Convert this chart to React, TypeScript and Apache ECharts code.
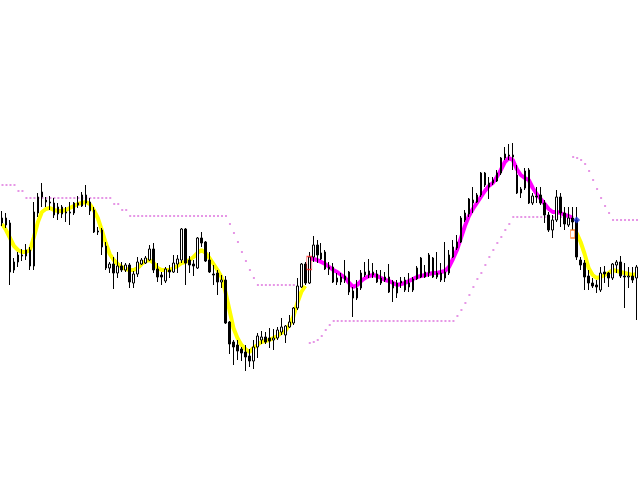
import React, { useEffect, useRef } from "react";
import * as echarts from "echarts";

// Each candle: [open, close, low, high] (price in points)
const candles: number[][] = [
  [257, 262, 254, 269], [262, 255, 252, 267], [257, 208, 195, 260], [210, 218, 207, 222],
  [218, 225, 213, 228], [224, 225, 219, 231], [224, 230, 220, 236], [230, 214, 210, 233],
  [214, 268, 210, 278], [267, 283, 263, 287], [283, 288, 273, 297], [280, 278, 273, 283],
  [278, 277, 270, 284], [277, 265, 262, 282], [266, 273, 260, 277], [273, 266, 262, 275],
  [268, 267, 258, 273], [268, 267, 255, 278], [267, 277, 265, 278], [275, 277, 272, 284],
  [274, 285, 273, 288], [285, 277, 273, 295], [278, 269, 265, 282], [270, 248, 247, 273],
  [249, 248, 245, 253], [250, 233, 225, 252], [234, 212, 210, 238], [212, 216, 207, 218],
  [216, 207, 191, 223], [207, 214, 202, 228], [214, 210, 208, 218], [210, 215, 208, 217],
  [215, 198, 192, 217], [197, 206, 192, 209], [206, 218, 203, 223], [216, 220, 215, 222],
  [217, 222, 216, 224], [220, 231, 219, 235], [231, 210, 207, 237], [211, 203, 198, 217],
  [205, 203, 195, 208], [199, 211, 197, 213], [210, 208, 202, 215], [208, 217, 207, 225],
  [216, 221, 207, 225], [220, 251, 217, 252], [251, 217, 195, 252], [220, 215, 207, 224],
  [216, 214, 204, 220], [212, 242, 211, 243], [242, 237, 233, 248], [238, 219, 218, 239],
  [220, 208, 207, 228], [206, 205, 195, 215], [207, 198, 185, 210], [198, 200, 192, 205],
  [200, 157, 156, 204], [158, 136, 126, 159], [138, 133, 115, 140], [135, 129, 120, 140],
  [131, 127, 119, 133], [128, 123, 109, 135], [124, 119, 113, 131], [119, 133, 111, 140],
  [133, 144, 122, 147], [140, 143, 136, 149], [143, 138, 136, 148], [142, 139, 132, 152],
  [140, 142, 130, 151], [142, 150, 140, 153], [148, 153, 145, 162], [145, 154, 137, 155],
  [153, 158, 152, 165], [157, 172, 155, 173], [172, 194, 170, 202], [193, 216, 192, 217],
  [216, 197, 195, 218], [197, 223, 196, 228], [223, 235, 218, 244], [235, 225, 217, 240],
  [221, 227, 220, 237], [228, 211, 210, 230], [211, 213, 205, 218], [213, 198, 197, 217],
  [198, 202, 195, 207], [203, 198, 195, 207], [200, 204, 197, 220], [208, 188, 185, 209],
  [189, 182, 163, 193], [182, 192, 180, 200], [192, 207, 190, 210], [205, 208, 203, 218],
  [209, 205, 202, 221], [205, 208, 202, 217], [206, 198, 197, 210], [197, 202, 195, 210],
  [200, 203, 198, 208], [203, 188, 187, 216], [198, 192, 178, 200], [187, 197, 182, 200],
  [197, 199, 192, 203], [200, 190, 188, 203], [193, 197, 188, 207], [190, 201, 188, 203],
  [201, 212, 200, 214], [203, 222, 202, 223], [203, 208, 202, 215], [207, 225, 203, 227],
  [222, 203, 202, 223], [203, 207, 201, 228], [207, 200, 198, 217], [202, 208, 198, 238],
  [207, 225, 205, 230], [223, 233, 222, 240], [232, 238, 230, 245], [238, 262, 237, 264],
  [260, 267, 258, 270], [266, 281, 263, 282], [280, 277, 267, 293], [278, 285, 277, 287],
  [285, 307, 283, 308], [307, 295, 293, 308], [293, 297, 281, 303], [297, 300, 295, 303],
  [299, 307, 298, 310], [307, 322, 305, 323], [322, 326, 320, 333], [325, 324, 320, 336],
  [325, 323, 310, 337], [305, 287, 286, 315], [287, 291, 282, 293], [292, 309, 290, 312],
  [310, 277, 276, 312], [277, 284, 275, 287], [284, 283, 277, 293], [285, 277, 275, 293],
  [277, 265, 257, 280], [265, 250, 248, 268], [250, 260, 242, 265], [260, 283, 258, 290],
  [283, 267, 253, 287], [267, 256, 250, 273], [255, 262, 253, 273], [262, 258, 250, 273],
  [260, 223, 220, 273], [220, 215, 210, 223], [217, 203, 190, 220], [204, 197, 190, 210],
  [197, 194, 192, 202], [195, 193, 187, 200], [190, 207, 188, 213], [208, 206, 197, 214],
  [207, 202, 193, 208], [202, 216, 200, 217], [215, 218, 207, 220], [218, 204, 202, 224],
  [204, 203, 172, 217], [203, 204, 192, 213], [204, 200, 197, 213], [202, 213, 160, 215],
];

const categories: string[] = candles.map((_, i) => String(i + 1));

// Trend moving average: yellow (down-trend), magenta (up-trend)
const yellowAStart = 0;
const yellowA: number[] = [
  256, 250, 242, 234, 230, 228, 228, 230, 243, 258,
  268, 271, 272, 270, 269, 269, 270, 272, 274, 276,
  277, 278, 276, 270, 262, 250, 237, 226, 220, 216,
  213, 211, 210, 210, 212, 216, 219, 220, 217, 212,
  210, 210, 210, 212, 214, 217, 218, 220, 223, 227,
  230, 227, 222, 216, 210, 203, 188, 170, 152, 142,
  135, 131, 128, 132, 135, 138, 139, 140, 142, 144,
  147, 149, 155, 163, 177, 188, 194,
];
const magentaStart = 77;
const magenta: number[] = [
  222, 221, 220, 218, 216, 213, 210, 208, 205, 202,
  197, 193, 195, 199, 202, 204, 205, 204, 202, 200,
  199, 197, 195, 196, 197, 199, 201, 203, 204, 205,
  206, 207, 207, 208, 209, 213, 221, 230, 242, 254,
  264, 271, 277, 283, 289, 294, 297, 303, 310, 318,
  322, 320, 311, 305, 302, 300, 292, 286, 281, 276,
  271, 268, 268, 267, 265, 264, 262,
];
const yellowBStart = 144;
const yellowB: number[] = [247, 238, 226, 212, 205, 202, 203, 205, 207, 210, 209, 208, 207, 206, 205, 206];

// Trailing stop dots
const upperAStart = 0;
const upperA: number[] = [
  295, 295, 295, 295, 289, 289,
  282, 282, 282, 282, 282, 282, 282, 282, 282, 282, 282, 282, 282, 282, 282, 282, 282, 282, 282, 282, 282, 282,
  276, 276, 270, 270,
  264, 264, 264, 264, 264, 264, 264, 264, 264, 264, 264, 264, 264, 264, 264, 264, 264, 264, 264, 264, 264, 264, 264, 264, 264,
  256, 247, 238, 228, 219, 210, 202,
  195, 195, 195, 195, 195, 195, 195, 195, 195, 195,
];
const lowerStart = 77;
const lower: number[] = [
  137, 138, 140, 144, 150, 155,
  159, 159, 159, 159, 159, 159, 159, 159, 159, 159, 159, 159, 159, 159, 159, 159,
  159, 159, 159, 159, 159, 159, 159, 159, 159, 159, 159, 159, 159, 159, 159,
  164, 170, 177, 185, 193, 201, 207, 215, 223, 230, 237, 243, 250, 256,
  263, 263, 263, 263, 263, 263, 263, 263, 263, 263, 263, 263, 263, 263, 263,
];
const upperBStart = 143;
const upperB: number[] = [323, 322, 320, 316, 309, 300, 291, 282, 274, 267, 260, 260, 260, 260, 260, 260, 260];

// Signal markers: [bar index, price]
const buySignal: number[][] = [[77, 217]];
const sellSignal: number[][] = [[143, 246]];
const sellDiamond: number[][] = [[144, 260]];

function placeLine(start: number, vals: number[]): (number | null)[] {
  const out: (number | null)[] = categories.map(() => null);
  vals.forEach((v, i) => {
    out[start + i] = v;
  });
  return out;
}
function placeDots(start: number, vals: number[]): number[][] {
  return vals.map((v, i) => [start + i, v]);
}

export default function App() {
  const ref = useRef<HTMLDivElement>(null);
  useEffect(() => {
    if (!ref.current) return;
    const chart = echarts.init(ref.current, undefined, { renderer: "svg" });
    const maStyle = (color: string) => ({
      type: "line",
      symbol: "none",
      showSymbol: false,
      connectNulls: false,
      lineStyle: { color, width: 4 },
      itemStyle: { color },
      z: 1,
      silent: true,
    });
    const dotSeries = (data: number[][]) => ({
      type: "scatter",
      data,
      symbol: "rect",
      symbolSize: [2, 2],
      symbolOffset: [0.5, 0],
      itemStyle: { color: "#e07ce0" },
      z: 2,
      silent: true,
    });
    chart.setOption({
      animation: false,
      backgroundColor: "#ffffff",
      grid: { left: -1.5, top: 0, width: 640, height: 480 },
      xAxis: { type: "category", data: categories, show: false, boundaryGap: true },
      yAxis: { type: "value", min: 0, max: 480, show: false },
      series: [
        { ...maStyle("#ffff00"), data: placeLine(yellowAStart, yellowA) },
        { ...maStyle("#ff00ff"), data: placeLine(magentaStart, magenta) },
        { ...maStyle("#ffff00"), data: placeLine(yellowBStart, yellowB) },
        dotSeries(placeDots(upperAStart, upperA)),
        dotSeries(placeDots(lowerStart, lower)),
        dotSeries(placeDots(upperBStart, upperB)),
        {
          type: "candlestick",
          data: candles,
          barWidth: 2,
          z: 3,
          silent: true,
          itemStyle: {
            color: "#ffffff",
            color0: "#000000",
            borderColor: "#000000",
            borderColor0: "#000000",
            borderWidth: 1,
          },
        },
        {
          type: "scatter",
          data: buySignal,
          symbol: "rect",
          symbolSize: [5, 13],
          itemStyle: { color: "rgba(0,0,0,0)", borderColor: "#ff3030", borderWidth: 1 },
          z: 4,
          silent: true,
        },
        {
          type: "scatter",
          data: sellSignal,
          symbol: "rect",
          symbolSize: [4, 8],
          itemStyle: { color: "rgba(0,0,0,0)", borderColor: "#ff6a00", borderWidth: 1 },
          z: 4,
          silent: true,
        },
        {
          type: "scatter",
          data: sellDiamond,
          symbol: "diamond",
          symbolSize: 7,
          itemStyle: { color: "#1a33d9" },
          z: 5,
          silent: true,
        },
      ],
    });
    return () => chart.dispose();
  }, []);
  return (
    <div
      ref={ref}
      style={{ position: "absolute", left: 0, top: 0, width: 640, height: 480, background: "#ffffff" }}
    />
  );
}
